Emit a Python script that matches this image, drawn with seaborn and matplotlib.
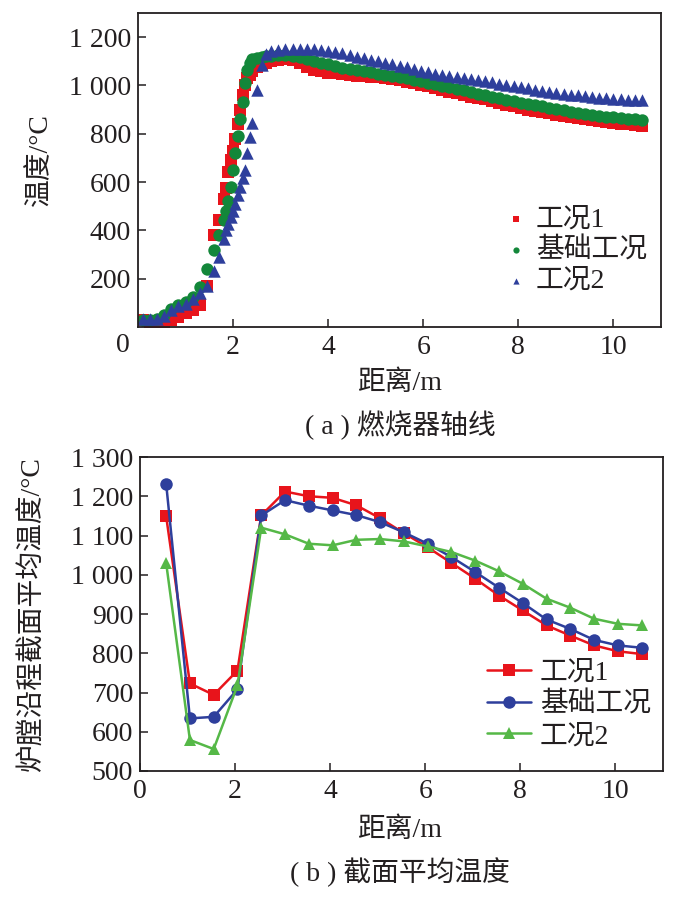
import numpy as np
import pandas as pd
import matplotlib
matplotlib.use("Agg")
import matplotlib.pyplot as plt
import seaborn as sns

# (a) burner axis temperature, sampled along the axis
axis_x = [0.1, 0.25, 0.4, 0.55, 0.7, 0.85, 1.0, 1.15, 1.3, 1.45, 1.6,
          1.7, 1.8, 1.85, 1.9, 1.95, 2.0, 2.05, 2.1, 2.15, 2.2, 2.25, 2.3, 2.35, 2.4,
          2.5, 2.6, 2.7,
          2.8, 2.95, 3.1, 3.25, 3.4, 3.55, 3.7, 3.85, 4.0, 4.15, 4.3, 4.45, 4.6, 4.75,
          4.9, 5.05, 5.2, 5.35, 5.5, 5.65, 5.8, 5.95, 6.1, 6.25, 6.4, 6.55, 6.7, 6.85,
          7.0, 7.15, 7.3, 7.45, 7.6, 7.75, 7.9, 8.05, 8.2, 8.35, 8.5, 8.65, 8.8, 8.95,
          9.1, 9.25, 9.4, 9.55, 9.7, 9.85, 10.0, 10.15, 10.3, 10.45, 10.6]

axis_case1 = [30, 22, 12, 15, 28, 42, 58, 72, 92, 170, 380,
              441, 530, 575, 640, 690, 730, 780, 840, 900, 960, 1000, 1030, 1045, 1060,
              1078, 1088, 1095,
              1100, 1105, 1108, 1106, 1092, 1076, 1066, 1058, 1053, 1050, 1047, 1044, 1041, 1038,
              1036, 1033, 1030, 1027, 1022, 1016, 1009, 1002, 996, 989, 982, 975, 968, 961,
              954, 948, 942, 935, 928, 921, 914, 907, 900, 895, 890, 884, 879, 874,
              869, 864, 860, 856, 852, 848, 845, 842, 839, 836, 834]

axis_base = [30, 30, 32, 48, 75, 92, 105, 125, 165, 240, 320,
             380, 445, 480, 520, 580, 650, 720, 790, 860, 930, 1010, 1065, 1095, 1108,
             1115, 1118, 1120,
             1122, 1125, 1126, 1124, 1118, 1110, 1102, 1094, 1087, 1080, 1074, 1068, 1063, 1058,
             1054, 1049, 1045, 1040, 1035, 1029, 1023, 1017, 1011, 1005, 999, 993, 987, 980,
             973, 966, 960, 954, 948, 941, 935, 929, 923, 918, 913, 907, 902, 897,
             892, 887, 883, 879, 875, 871, 868, 865, 862, 860, 859]

axis_case2 = [35, 35, 33, 45, 70, 85, 97, 115, 140, 170, 230,
              290, 365, 400, 425, 455, 480, 510, 545, 580, 615, 650, 720, 786, 845,
              980, 1085, 1130,
              1142, 1147, 1149, 1150, 1150, 1150, 1149, 1147, 1144, 1140, 1134, 1126, 1118, 1112,
              1106, 1100, 1094, 1088, 1082, 1075, 1068, 1061, 1055, 1049, 1044, 1039, 1034, 1030,
              1026, 1022, 1018, 1013, 1008, 1003, 998, 993, 988, 982, 977, 973, 969, 965,
              962, 959, 956, 953, 950, 947, 945, 943, 941, 939, 938]

# (b) section-averaged temperature
sec_x = [0.55, 1.05, 1.55, 2.05, 2.55, 3.05, 3.55, 4.05, 4.55, 5.05, 5.55,
         6.05, 6.55, 7.05, 7.55, 8.05, 8.55, 9.05, 9.55, 10.05, 10.55]
sec_case1 = [1149, 723, 694, 756, 1151, 1212, 1200, 1196, 1177, 1144, 1106,
             1070, 1030, 990, 947, 909, 871, 845, 820, 805, 798]
sec_base = [1232, 634, 638, 708, 1151, 1190, 1176, 1164, 1152, 1134, 1108,
            1079, 1045, 1007, 967, 928, 886, 862, 834, 820, 814]
sec_case2 = [1030, 579, 556, 718, 1120, 1103, 1079, 1075, 1089, 1091, 1085,
             1072, 1058, 1036, 1009, 977, 939, 916, 888, 875, 871]

names = ["工况1", "基础工况", "工况2"]
top_colors = ["#e8141b", "#13873a", "#2e3f9c"]
bot_colors = ["#e8141b", "#2e3f9c", "#55b847"]
markers = ["s", "o", "^"]
top_sizes = [66, 80, 80]

W, H = 696, 909
sns.set_theme(style="white")
plt.rcParams["font.family"] = ["Liberation Serif", "Noto Sans CJK SC", "DejaVu Sans"]
plt.rcParams["axes.unicode_minus"] = False
FS = 20

fig = plt.figure(figsize=(W / 100, H / 100), dpi=100)


def box(l, t, r, b):
    return [l / W, 1 - b / H, (r - l) / W, (b - t) / H]


def style_axes(ax):
    for s in ax.spines.values():
        s.set_color("#231f20")
        s.set_linewidth(1.3)
    ax.tick_params(direction="in", length=6, width=1.1, color="#231f20",
                   labelsize=FS, labelcolor="#231f20", top=False, right=False,
                   bottom=True, left=True)
    ax.tick_params(axis="x", pad=6)
    ax.tick_params(axis="y", pad=5)
    ax.set_xlabel("")
    ax.set_ylabel("")


def fmt(v):
    v = int(v)
    return f"{v // 1000} {v % 1000:03d}" if v >= 1000 else str(v)


# ---- (a)
ax1 = fig.add_axes(box(138, 13, 661, 327))
df_a = pd.DataFrame({
    "x": axis_x * 3,
    "T": axis_case1 + axis_base + axis_case2,
    "case": [n for n in names for _ in axis_x],
})
for n, c, m, sz in zip(names, top_colors, markers, top_sizes):
    sub = df_a[df_a["case"] == n]
    sns.scatterplot(data=sub, x="x", y="T", ax=ax1, color=c, marker=m,
                    s=sz, linewidth=0, label=n)
ax1.set_xlim(0, 11)
ax1.set_ylim(0, 1300)
ax1.set_xticks([2, 4, 6, 8, 10])
ax1.set_yticks([200, 400, 600, 800, 1000, 1200])
ax1.set_yticklabels([fmt(v) for v in ax1.get_yticks()])
style_axes(ax1)
leg1 = ax1.legend(loc="upper left", bbox_to_anchor=(505 / W, 1 - 207 / H),
                  bbox_transform=fig.transFigure, frameon=False, fontsize=FS,
                  handlelength=0.8, handletextpad=0.3, labelspacing=0.18,
                  borderpad=0, borderaxespad=0, markerscale=0.5)
for t in leg1.get_texts():
    t.set_color("#231f20")

fig.text(123 / W, 1 - 345 / H, "0", ha="center", va="center", fontsize=FS, color="#231f20")
fig.text(40 / W, 1 - 160 / H, "温度/°C", ha="center", va="center", rotation=90,
         fontsize=FS, color="#231f20")
fig.text(400 / W, 1 - 383 / H, "距离/m", ha="center", va="center", fontsize=FS, color="#231f20")
fig.text(400 / W, 1 - 425 / H, "( a ) 燃烧器轴线", ha="center", va="center", fontsize=FS,
         color="#231f20")

# ---- (b)
ax2 = fig.add_axes(box(140, 457, 663, 771))
df_b = pd.DataFrame({
    "x": sec_x * 3,
    "T": sec_case1 + sec_base + sec_case2,
    "case": [n for n in names for _ in sec_x],
})
sns.lineplot(data=df_b, x="x", y="T", hue="case", style="case", hue_order=names,
             style_order=names, palette=bot_colors, markers=markers, dashes=False,
             markersize=9, markeredgewidth=0, linewidth=1.8, ax=ax2)
ax2.set_xlim(0, 11)
ax2.set_ylim(500, 1300)
ax2.set_xticks([0, 2, 4, 6, 8, 10])
ax2.set_yticks(list(range(500, 1301, 100)))
ax2.set_yticklabels([fmt(v) for v in ax2.get_yticks()])
style_axes(ax2)
leg2 = ax2.legend(loc="upper left", bbox_to_anchor=(487 / W, 1 - 660 / H),
                  bbox_transform=fig.transFigure, frameon=False, fontsize=FS,
                  handlelength=1.6, handletextpad=0.3, labelspacing=0.22,
                  borderpad=0, borderaxespad=0)
for t in leg2.get_texts():
    t.set_color("#231f20")

fig.text(33 / W, 1 - 615 / H, "炉膛沿程截面平均温度/°C", ha="center", va="center",
         rotation=90, fontsize=FS, color="#231f20")
fig.text(400 / W, 1 - 830 / H, "距离/m", ha="center", va="center", fontsize=FS, color="#231f20")
fig.text(400 / W, 1 - 872 / H, "( b ) 截面平均温度", ha="center", va="center", fontsize=FS,
         color="#231f20")

fig.savefig("out.png", dpi=100, facecolor="white")
